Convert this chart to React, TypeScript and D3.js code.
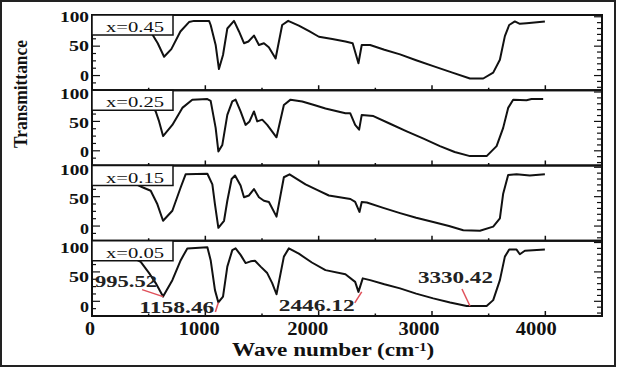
import React, { useEffect } from 'react';
import * as d3 from 'd3';

// samples, top to bottom
const sampleLabels = ['x=0.45', 'x=0.25', 'x=0.15', 'x=0.05'];

// [wave number (cm-1), transmittance]
const spec045: [number, number][] = [
  [450, 85], [533, 70], [580, 55], [636, 32], [700, 45], [780, 75], [856, 91], [900, 93], [1033, 93],
  [1047, 86], [1091, 52], [1120, 11], [1156, 35], [1194, 80], [1253, 93], [1297, 75], [1341, 55],
  [1380, 58], [1429, 68], [1473, 52], [1517, 55], [1560, 48], [1620, 29], [1678, 86], [1731, 93],
  [1825, 85], [1920, 75], [2002, 66], [2120, 62], [2236, 58], [2300, 55], [2351, 21], [2380, 52],
  [2454, 52], [2580, 44], [2718, 36], [2860, 26], [3011, 16], [3180, 5], [3335, -5], [3452, -5],
  [3540, 5], [3599, 27], [3643, 67], [3681, 86], [3731, 92], [3775, 88], [3834, 89], [3996, 92],
];
const spec025: [number, number][] = [
  [450, 85], [540, 72], [562, 67], [592, 50], [627, 25], [709, 44], [797, 73], [885, 87], [1018, 88],
  [1047, 85], [1091, 39], [1115, -1], [1150, 10], [1194, 61], [1238, 84], [1267, 87], [1311, 67],
  [1355, 44], [1390, 50], [1429, 67], [1458, 50], [1502, 53], [1546, 44], [1628, 23], [1693, 78],
  [1752, 87], [1855, 84], [1960, 78], [2060, 72], [2236, 64], [2278, 64], [2322, 44], [2357, 36],
  [2380, 61], [2483, 59], [2630, 46], [2777, 33], [2920, 21], [3070, 8], [3200, -2], [3335, -9],
  [3482, -9], [3570, 8], [3628, 39], [3672, 73], [3716, 87], [3834, 86], [3878, 88], [3981, 88],
];
const spec015: [number, number][] = [
  [400, 70], [445, 66], [518, 60], [577, 37], [627, 9], [709, 26], [783, 66], [826, 88], [1018, 89],
  [1062, 71], [1085, 37], [1115, -3], [1165, 9], [1194, 43], [1232, 80], [1262, 86], [1311, 69],
  [1341, 49], [1385, 52], [1429, 63], [1473, 49], [1517, 43], [1561, 41], [1628, 16], [1693, 83],
  [1743, 88], [1884, 71], [1990, 61], [2090, 52], [2280, 46], [2322, 41], [2360, 24], [2380, 41],
  [2425, 40], [2570, 31], [2718, 22], [2860, 14], [3011, 7], [3150, 0], [3276, -7], [3423, -8],
  [3540, -1], [3599, 13], [3628, 55], [3672, 87], [3746, 88], [3863, 86], [3996, 88],
];
const spec005: [number, number][] = [
  [380, 72], [430, 67], [504, 48], [562, 31], [627, 8], [709, 36], [783, 70], [841, 90], [1018, 92],
  [1047, 70], [1085, 19], [1115, -2], [1156, 8], [1194, 59], [1238, 87], [1267, 90], [1311, 79],
  [1355, 65], [1400, 68], [1438, 69], [1488, 59], [1546, 48], [1590, 31], [1628, 12], [1693, 76],
  [1737, 90], [1825, 81], [1940, 66], [2060, 53], [2236, 46], [2322, 33], [2351, 16], [2389, 39],
  [2454, 36], [2580, 29], [2718, 22], [2860, 13], [3011, 5], [3160, -2], [3306, -8], [3482, -8],
  [3540, 2], [3599, 36], [3643, 76], [3681, 88], [3746, 88], [3775, 80], [3819, 86], [3996, 88],
];
const spectra = [spec045, spec025, spec015, spec005];

const yTickLabels = [100, 50, 0];
const xTickLabels = [0, 1000, 2000, 3000, 4000];

// peak annotations on the x=0.05 spectrum
const peakLabels = ['995.52', '1158.46', '2446.12', '3330.42'];
const peakWave = [627, 1115, 2380, 3335];
const peakTrans = [8, -2, 16, -8];

// layout tweaks
const peakLayout = [
  { lx: -21, ly: -7, tx: -68, ty: -10, w: 62 },
  { lx: -3, ly: 9.5, tx: -79, ty: 10.5, w: 75 },
  { lx: -7, ly: 11, tx: -83, ty: 19, w: 76 },
  { lx: -8, ly: -17, tx: -52, ty: -23, w: 75 },
];
const yLabelShift = [5, 6.5, 7.5, 10.5];
const xLabelShift = [-2, -6, -11, -13, -9];

const W = 617;
const H = 368;
const plotLeft = 92;
const plotRight = 602;
const plotTop = 15;
const plotBottom = 316;
const serif = 'Liberation Serif, Times New Roman, Times, serif';

const App: React.FC = () => {
  useEffect(() => {
    document.body.style.margin = '0';
  }, []);

  const panelH = (plotBottom - plotTop) / spectra.length;
  const x = d3.scaleLinear().domain([0, 4500]).range([plotLeft, plotRight]);
  const xMajor = d3.range(0, 4001, 1000);
  const xMinor = d3.range(500, 4500, 1000);

  return (
    <svg width={W} height={H} style={{ display: 'block', background: '#fff' }}>
      <rect x={1} y={1} width={W - 3} height={H - 3} fill="none" stroke="#222" strokeWidth={2} />

      {spectra.map((spec, i) => {
        const top = plotTop + i * panelH;
        const y = d3.scaleLinear().domain([-25, 103]).range([top + panelH, top]);
        const line = d3
          .line<[number, number]>()
          .x((d) => x(d[0]))
          .y((d) => y(d[1]));
        const leftTicks = d3.range(-25, 101, 12.5);
        const rightTicks = d3.range(-20, 101, 10);
        const bottom = top + panelH;
        return (
          <g key={i}>
            <path d={line(spec) || ''} fill="none" stroke="#111" strokeWidth={2} strokeLinejoin="round" />
            <rect x={plotLeft} y={top} width={plotRight - plotLeft} height={panelH} fill="none" stroke="#111" strokeWidth={2} />
            {leftTicks.map((t) => (
              <line key={'l' + t} x1={plotLeft} x2={plotLeft + (t % 50 === 0 ? 8 : 4)} y1={y(t)} y2={y(t)} stroke="#111" strokeWidth={1.2} />
            ))}
            {rightTicks.map((t) => (
              <line key={'r' + t} x1={plotRight} x2={plotRight - (t % 50 === 0 ? 8 : 5)} y1={y(t)} y2={y(t)} stroke="#111" strokeWidth={1.2} />
            ))}
            {xMajor.map((t) => (
              <line key={'M' + t} x1={x(t)} x2={x(t)} y1={bottom} y2={bottom - 5} stroke="#111" strokeWidth={1.5} />
            ))}
            {xMinor.map((t) => (
              <line key={'m' + t} x1={x(t)} x2={x(t)} y1={bottom} y2={bottom - 2.5} stroke="#111" strokeWidth={1.5} />
            ))}
            {yTickLabels.map((t) => (
              <text
                key={'yl' + t}
                x={89}
                y={y(t) + yLabelShift[i]}
                textAnchor="end"
                fontFamily={serif}
                fontWeight="bold"
                fontSize={14}
                textLength={t === 100 ? 29 : t === 50 ? 20 : 9}
                lengthAdjust="spacingAndGlyphs"
                fill="#111"
              >
                {t}
              </text>
            ))}
            <rect x={plotLeft} y={top} width={81} height={20} fill="#fff" stroke="#111" strokeWidth={1.5} />
            <text
              x={106}
              y={top + 17}
              fontFamily={serif}
              fontSize={15}
              textLength={58}
              lengthAdjust="spacingAndGlyphs"
              fill="#111"
            >
              {sampleLabels[i]}
            </text>
            {i === spectra.length - 1 &&
              peakLabels.map((lab, k) => {
                const px = x(peakWave[k]);
                const py = y(peakTrans[k]);
                const l = peakLayout[k];
                return (
                  <g key={lab}>
                    <line x1={px} y1={py} x2={px + l.lx} y2={py + l.ly} stroke="#e0505a" strokeWidth={1.5} />
                    <text
                      x={px + l.tx}
                      y={py + l.ty}
                      fontFamily={serif}
                      fontWeight="bold"
                      fontSize={17}
                      textLength={l.w}
                      lengthAdjust="spacingAndGlyphs"
                      fill="#222"
                    >
                      {lab}
                    </text>
                  </g>
                );
              })}
          </g>
        );
      })}

      {xTickLabels.map((t, k) => (
        <text
          key={'xl' + t}
          x={x(t) + xLabelShift[k]}
          y={335}
          textAnchor="middle"
          fontFamily={serif}
          fontWeight="bold"
          fontSize={18}
          textLength={t === 0 ? 10 : 41}
          lengthAdjust="spacingAndGlyphs"
          fill="#111"
        >
          {t}
        </text>
      ))}

      <g transform="translate(232,356) scale(1.22,1)">
        <text x={0} y={0} fontFamily={serif} fontWeight="bold" fontSize={19} fill="#111">
          Wave number (cm
          <tspan fontSize={12} dy={-5}>-1</tspan>
          <tspan dy={5}>)</tspan>
        </text>
      </g>

      <text
        transform="translate(27,94) rotate(-90)"
        textAnchor="middle"
        fontFamily={serif}
        fontWeight="bold"
        fontSize={19}
        textLength={108}
        lengthAdjust="spacingAndGlyphs"
        fill="#111"
      >
        Transmittance
      </text>
    </svg>
  );
};

export default App;
